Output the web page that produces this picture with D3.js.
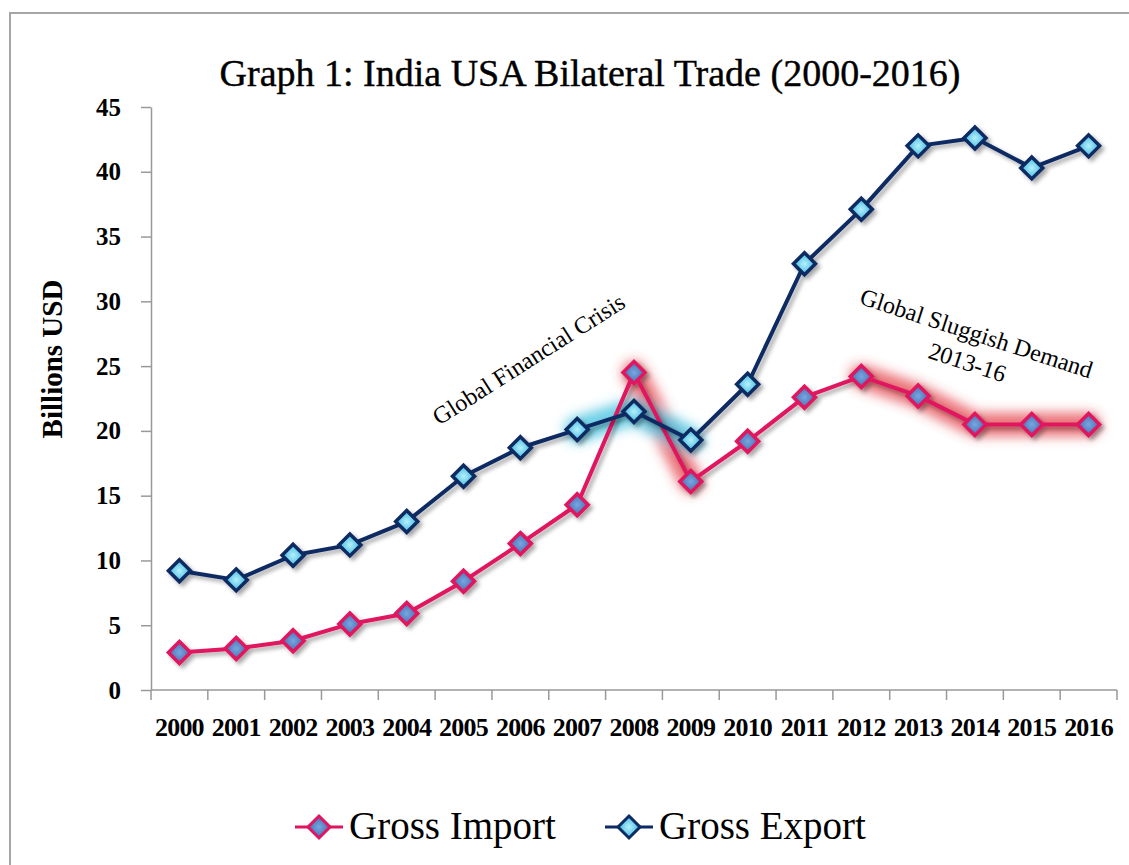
<!DOCTYPE html>
<html>
<head>
<meta charset="utf-8">
<script src="https://cdn.jsdelivr.net/npm/d3@7"></script>
<style>
  html, body { margin: 0; padding: 0; background: #fff; }
  svg { display: block; }
</style>
</head>
<body>
<svg id="chart" width="1129" height="865"></svg>
<script>
const years = ["2000","2001","2002","2003","2004","2005","2006","2007","2008","2009","2010","2011","2012","2013","2014","2015","2016"];
const grossImport = [2.9, 3.2, 3.8, 5.1, 5.9, 8.4, 11.3, 14.3, 24.5, 16.1, 19.2, 22.6, 24.2, 22.7, 20.5, 20.5, 20.5];
const grossExport = [9.2, 8.5, 10.4, 11.2, 13.0, 16.5, 18.7, 20.1, 21.5, 19.3, 23.6, 32.9, 37.1, 42.0, 42.6, 40.3, 42.0];
const yTicks = [0, 5, 10, 15, 20, 25, 30, 35, 40, 45];
const seriesNames = ["Gross Import", "Gross Export"];
const importGlowYears = [["2008","2009"], ["2012","2013","2014","2015","2016"]];
const exportGlowYears = [["2007","2008","2009"]];
const titleText = "Graph 1: India USA Bilateral Trade (2000-2016)";
const yAxisTitle = "Billions USD";
const note1 = "Global Financial Crisis";
const note2a = "Global Sluggish Demand";
const note2b = "2013-16";

const svg = d3.select("#chart");
const W = 1129, H = 865;
const x = d3.scaleBand().domain(years).range([151, 1117]).paddingInner(0).paddingOuter(0);
const y = d3.scaleLinear().domain([0, 45]).range([690, 107]);
const cx = d => x(d) + x.bandwidth() / 2;

const importColor = "#e0145f";
const exportColor = "#0d2b62";

const defs = svg.append("defs");
const sh = defs.append("filter").attr("id", "shadow").attr("x", "-30%").attr("y", "-30%").attr("width", "160%").attr("height", "160%");
sh.append("feDropShadow").attr("dx", 3).attr("dy", 3).attr("stdDeviation", 2).attr("flood-color", "#000").attr("flood-opacity", 0.35);
const gl = defs.append("filter").attr("id", "glow").attr("x", "-50%").attr("y", "-50%").attr("width", "200%").attr("height", "200%");
gl.append("feGaussianBlur").attr("stdDeviation", 6);

const gi = defs.append("radialGradient").attr("id", "gImp");
gi.append("stop").attr("offset", "0%").attr("stop-color", "#7aa6df");
gi.append("stop").attr("offset", "100%").attr("stop-color", "#3f6fb6");
const ge = defs.append("radialGradient").attr("id", "gExp");
ge.append("stop").attr("offset", "0%").attr("stop-color", "#b6f0fb");
ge.append("stop").attr("offset", "100%").attr("stop-color", "#3db8e0");

// frame
svg.append("path").attr("d", `M10,${H} L10,13 L${W},13`).attr("fill", "none").attr("stroke", "#a6a6a6").attr("stroke-width", 2);

// title
svg.append("text").attr("x", 590).attr("y", 86).attr("text-anchor", "middle")
  .attr("font-family", "Liberation Serif, serif").attr("font-size", 38).attr("fill", "#000")
  .attr("stroke", "#000").attr("stroke-width", 0.4)
  .text(titleText);

// axes
const gy = svg.append("g").attr("transform", "translate(151,0)")
  .call(d3.axisLeft(y).tickValues(yTicks).tickSize(10).tickSizeOuter(0).tickPadding(20));
gy.select(".domain").attr("stroke", "#999").attr("stroke-width", 1.5);
gy.selectAll(".tick line").attr("stroke", "#999").attr("stroke-width", 1.5);
gy.selectAll(".tick text").attr("font-family", "Liberation Serif, serif").attr("font-weight", "bold").attr("font-size", 25).attr("fill", "#000");

const xb = d3.scaleLinear().domain([0, years.length]).range([151, 1117]);
const gx = svg.append("g").attr("transform", "translate(0,690)");
gx.append("line").attr("x1", 151).attr("x2", 1117).attr("stroke", "#999").attr("stroke-width", 1.5);
gx.selectAll("line.tk").data(d3.range(years.length + 1)).join("line").attr("class", "tk")
  .attr("x1", d => xb(d)).attr("x2", d => xb(d)).attr("y1", 0).attr("y2", 10)
  .attr("stroke", "#999").attr("stroke-width", 1.5);
gx.selectAll("text").data(years).join("text")
  .attr("x", d => cx(d)).attr("y", 46).attr("text-anchor", "middle")
  .attr("font-family", "Liberation Serif, serif").attr("font-weight", "bold").attr("font-size", 26)
  .attr("fill", "#000").attr("letter-spacing", -0.8).text(d => d);

// y title
svg.append("text").attr("transform", "translate(62,359) rotate(-90)").attr("text-anchor", "middle")
  .attr("font-family", "Liberation Serif, serif").attr("font-weight", "bold").attr("font-size", 29).attr("fill", "#000")
  .text(yAxisTitle);

const line = d3.line();
const impPts = years.map((d, i) => [cx(d), y(grossImport[i])]);
const expPts = years.map((d, i) => [cx(d), y(grossExport[i])]);

// glows
const glowLayer = svg.append("g").attr("filter", "url(#glow)");
importGlowYears.forEach(arr => {
  glowLayer.append("path").attr("d", line(arr.map(d => [cx(d), y(grossImport[years.indexOf(d)])])))
    .attr("fill", "none").attr("stroke", "#e23a45").attr("stroke-opacity", 0.7).attr("stroke-width", 24)
    .attr("stroke-linecap", "round").attr("stroke-linejoin", "round");
});
exportGlowYears.forEach(arr => {
  glowLayer.append("path").attr("d", line(arr.map(d => [cx(d), y(grossExport[years.indexOf(d)])])))
    .attr("fill", "none").attr("stroke", "#3cc0de").attr("stroke-opacity", 0.75).attr("stroke-width", 26)
    .attr("stroke-linecap", "round").attr("stroke-linejoin", "round");
});

function drawSeries(pts, color, grad) {
  const g = svg.append("g").attr("filter", "url(#shadow)");
  g.append("path").attr("d", line(pts)).attr("fill", "none").attr("stroke", color).attr("stroke-width", 4).attr("stroke-linejoin", "round");
  g.selectAll("path.mk").data(pts).join("path").attr("class", "mk")
    .attr("d", d => `M${d[0]},${d[1] - 11} L${d[0] + 11},${d[1]} L${d[0]},${d[1] + 11} L${d[0] - 11},${d[1]} Z`)
    .attr("fill", `url(#${grad})`).attr("stroke", color).attr("stroke-width", 3.5).attr("stroke-linejoin", "miter");
}
drawSeries(impPts, importColor, "gImp");
drawSeries(expPts, exportColor, "gExp");

// annotations
svg.append("text").attr("transform", "translate(533,366) rotate(-32.5)").attr("text-anchor", "middle")
  .attr("font-family", "Liberation Serif, serif").attr("font-size", 24).attr("fill", "#000").text(note1);
svg.append("text").attr("transform", "translate(974,341) rotate(18)").attr("text-anchor", "middle")
  .attr("font-family", "Liberation Serif, serif").attr("font-size", 24).attr("fill", "#000").text(note2a);
svg.append("text").attr("transform", "translate(965,370) rotate(18)").attr("text-anchor", "middle")
  .attr("font-family", "Liberation Serif, serif").attr("font-size", 24).attr("fill", "#000").text(note2b);

// legend
const legend = [
  {name: seriesNames[0], color: importColor, grad: "gImp", x0: 295},
  {name: seriesNames[1], color: exportColor, grad: "gExp", x0: 605}
];
const lg = svg.append("g");
legend.forEach(l => {
  const yy = 827;
  lg.append("line").attr("x1", l.x0).attr("x2", l.x0 + 48).attr("y1", yy).attr("y2", yy).attr("stroke", l.color).attr("stroke-width", 3);
  const c = l.x0 + 24;
  lg.append("path").attr("d", `M${c},${yy - 11} L${c + 11},${yy} L${c},${yy + 11} L${c - 11},${yy} Z`)
    .attr("fill", `url(#${l.grad})`).attr("stroke", l.color).attr("stroke-width", 3);
  lg.append("text").attr("x", l.x0 + 54).attr("y", yy + 12)
    .attr("font-family", "Liberation Serif, serif").attr("font-size", 39).attr("fill", "#000").text(l.name);
});
</script>
</body>
</html>
